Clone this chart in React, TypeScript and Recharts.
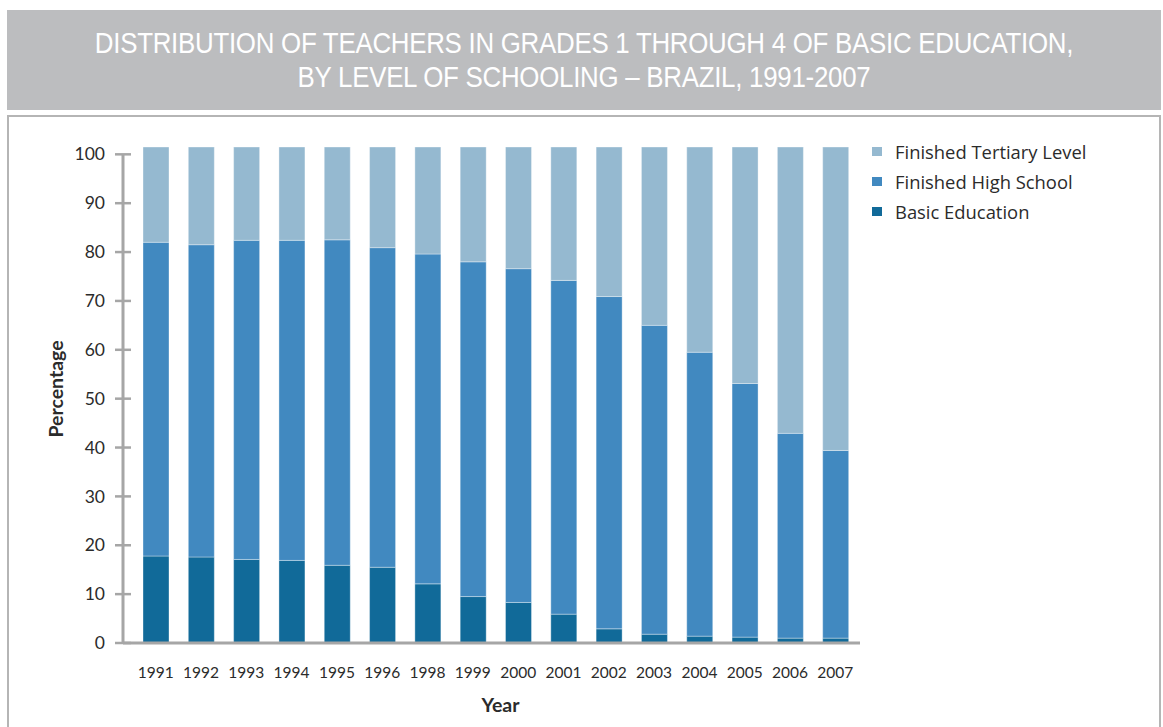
import { Bar, BarChart, Legend, XAxis, YAxis } from 'recharts'

// Values (percent of teachers). Stacks sum to ~101.5 as drawn.
const years = ['1991', '1992', '1993', '1994', '1995', '1996', '1998', '1999', '2000', '2001', '2002', '2003', '2004', '2005', '2006', '2007']
const basicEducation = [17.8, 17.6, 17.1, 16.9, 15.9, 15.5, 12.1, 9.5, 8.3, 5.9, 2.9, 1.8, 1.4, 1.2, 1.0, 1.0]
const highSchool = [64.2, 63.9, 65.3, 65.5, 66.6, 65.4, 67.5, 68.5, 68.3, 68.3, 68.0, 63.2, 58.1, 51.9, 41.9, 38.4]
const tertiary = [19.5, 20.0, 19.1, 19.1, 19.0, 20.6, 21.9, 23.5, 24.9, 27.3, 30.6, 36.5, 42.0, 48.4, 58.6, 62.1]
const yTicks = [0, 10, 20, 30, 40, 50, 60, 70, 80, 90, 100]
const Y_MAX = 101.5

const SERIES = [
  { key: 'basic', name: 'Basic Education', color: '#116A99' },
  { key: 'high', name: 'Finished High School', color: '#4189C0' },
  { key: 'tertiary', name: 'Finished Tertiary Level', color: '#95B9D0' },
]

const data = years.map((year, i) => ({
  year,
  basic: basicEducation[i],
  high: highSchool[i],
  tertiary: tertiary[i],
}))

const AXIS = '#A6A6A6'
const INK = '#2B2B2B'
const FONT = 'Lato, "Open Sans", sans-serif'

const CHART_W = 1150
const CHART_H = 611
const M = { top: 31, right: 297, left: 0, bottom: 4 }
const X_H = 80
const PLOT_H = CHART_H - M.top - M.bottom - X_H

// y tick: cross-shaped tick mark; the 100 tick also draws the axis line down to 0
function YTick(props: any) {
  const { x, y, payload } = props
  const v = payload.value
  return (
    <g>
      {v === 100 && <line x1={x} x2={x} y1={y} y2={y + (PLOT_H * 100) / Y_MAX} stroke={AXIS} strokeWidth={3} />}
      <line x1={x - 8} x2={x + 8} y1={y} y2={y} stroke={AXIS} strokeWidth={2.5} />
      <text x={x - 18} y={y} dy="0.35em" textAnchor="end" fontSize={17.5} fill={INK} fontFamily={FONT}>
        {v}
      </text>
    </g>
  )
}

function LegendBox() {
  const rows = [...SERIES].reverse()
  return (
    <div style={{ fontFamily: '"Open Sans", Lato, sans-serif' }}>
      {rows.map((s) => (
        <div key={s.key} style={{ display: 'flex', alignItems: 'center', height: 29.7 }}>
          <span style={{ width: 10, height: 9, background: s.color, marginRight: 13, display: 'inline-block' }} />
          <span style={{ fontSize: 18.4, color: INK }}>{s.name}</span>
        </div>
      ))}
    </div>
  )
}

const titleLine = {
  transform: 'scaleX(0.892)',
  transformOrigin: 'center',
  whiteSpace: 'nowrap' as const,
}

export default function App() {
  return (
    <div style={{ position: 'absolute', left: 0, top: 0, width: 1163, height: 727, background: '#fff', overflow: 'hidden' }}>
      <div
        style={{
          position: 'absolute',
          left: 7,
          top: 10,
          width: 1154,
          height: 100,
          background: '#BCBDBF',
          color: '#fff',
          fontFamily: '"Liberation Sans", Arial, sans-serif',
          fontSize: 29,
          letterSpacing: -0.3,
          lineHeight: '34px',
          textAlign: 'center',
          paddingTop: 16,
          boxSizing: 'border-box',
        }}
      >
        <div style={titleLine}>DISTRIBUTION OF TEACHERS IN GRADES 1 THROUGH 4 OF BASIC EDUCATION,</div>
        <div style={titleLine}>BY LEVEL OF SCHOOLING – BRAZIL, 1991-2007</div>
      </div>
      <div
        style={{
          position: 'absolute',
          left: 7,
          top: 115,
          width: 1154,
          height: 640,
          border: '2px solid #B5B5B5',
          boxSizing: 'border-box',
        }}
      />
      <div style={{ position: 'absolute', left: 7, top: 116 }}>
        <BarChart width={CHART_W} height={CHART_H} data={data} margin={M} barSize={26}>
          <XAxis
            dataKey="year"
            height={X_H}
            padding={{ left: 10, right: 2 }}
            axisLine={{ stroke: AXIS, strokeWidth: 3 }}
            tickLine={false}
            tickSize={0}
            tickMargin={24}
            tick={{ fontSize: 15.5, fill: INK, fontFamily: FONT }}
            interval={0}
            label={{
              value: 'Year',
              position: 'insideBottom',
              offset: 11,
              dx: 9,
              style: { fontSize: 19.5, fontWeight: 700, fill: INK, fontFamily: FONT },
            }}
          />
          <YAxis
            width={116}
            domain={[0, Y_MAX]}
            ticks={yTicks}
            interval={0}
            axisLine={false}
            tickLine={false}
            tickSize={0}
            tickMargin={0}
            tick={<YTick />}
            label={{
              value: 'Percentage',
              angle: -90,
              position: 'center',
              dx: -9,
              dy: -6,
              style: { fontSize: 19.5, fontWeight: 700, fill: INK, fontFamily: FONT },
            }}
          />
          <Legend
            layout="horizontal"
            align="center"
            verticalAlign="middle"
            content={<LegendBox />}
            wrapperStyle={{ left: 865, top: 21, width: 280 }}
          />
          {SERIES.map((s) => (
            <Bar
              key={s.key}
              dataKey={s.key}
              name={s.name}
              stackId="a"
              fill={s.color}
              stroke="#ffffff"
              strokeOpacity={0.35}
              strokeWidth={1}
              isAnimationActive={false}
            />
          ))}
        </BarChart>
      </div>
    </div>
  )
}
